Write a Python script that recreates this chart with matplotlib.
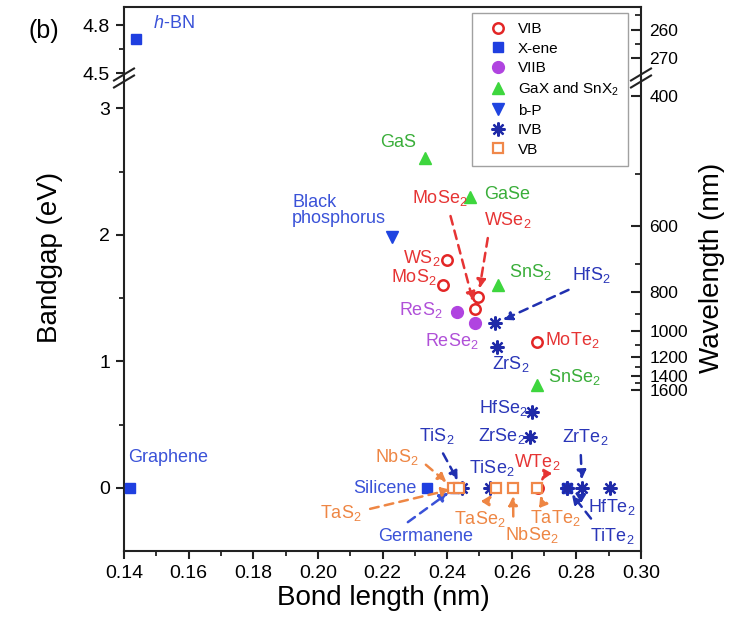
import matplotlib
matplotlib.use('Agg')
import matplotlib.pyplot as plt
from matplotlib.lines import Line2D
import numpy as np

plt.rcParams['font.family'] = ['Liberation Sans', 'DejaVu Sans']
plt.rcParams['mathtext.fontset'] = 'custom'
plt.rcParams['mathtext.rm'] = 'Liberation Sans'
plt.rcParams['mathtext.it'] = 'Liberation Sans:italic'
plt.rcParams['mathtext.bf'] = 'Liberation Sans:bold'

# ---------------- data ----------------
vib_names = ['MoS2', 'WS2', 'MoSe2', 'WSe2', 'MoTe2', 'WTe2']
vib_x = [0.2388, 0.2400, 0.2487, 0.2496, 0.2679, 0.2680]
vib_y = [1.605, 1.80, 1.41, 1.51, 1.155, 0.0]

xene_names = ['Graphene', 'h-BN', 'Silicene', 'Germanene', 'Stanene']
xene_x = [0.1420, 0.1437, 0.2338, 0.2425, 0.2770]
xene_y = [0.0, 4.71, 0.0, 0.0, 0.0]

viib_names = ['ReS2', 'ReSe2']
viib_x = [0.2431, 0.2487]
viib_y = [1.39, 1.30]

gax_names = ['GaS', 'GaSe', 'SnS2', 'SnSe2']
gax_x = [0.2332, 0.2471, 0.2558, 0.2679]
gax_y = [2.61, 2.30, 1.60, 0.81]

bp_names = ['Black phosphorus']
bp_x = [0.2230]
bp_y = [1.985]

ivb_names = ['TiS2', 'TiSe2', 'TiTe2', 'ZrS2', 'ZrSe2', 'ZrTe2', 'HfS2', 'HfSe2', 'HfTe2', 'IVB-other']
ivb_x = [0.2445, 0.2533, 0.2770, 0.2555, 0.2657, 0.2818, 0.2549, 0.2663, 0.2772, 0.2905]
ivb_y = [0.0, 0.0, 0.0, 1.11, 0.40, 0.0, 1.30, 0.60, 0.0, 0.0]

vb_names = ['NbS2', 'TaS2', 'TaSe2', 'NbSe2', 'TaTe2']
vb_x = [0.2418, 0.2436, 0.2552, 0.2604, 0.2679]
vb_y = [0.0, 0.0, 0.0, 0.0, 0.0]

x_ticks = [0.14, 0.16, 0.18, 0.20, 0.22, 0.24, 0.26, 0.28, 0.30]
y_ticks_low = [0, 1, 2, 3]
y_ticks_up = [4.5, 4.8]
wl_ticks_low = [400, 600, 800, 1000, 1200, 1400, 1600]
wl_minor_low = [500, 700, 900, 1100, 1300, 1500]
wl_ticks_up = [260, 270]
wl_minor_up = [255, 265]
HC = 1240.0  # eV*nm

# ---------------- styles ----------------
RED = '#e32626'
BLUE = '#1f3fe0'
PURPLE = '#b044e0'
GREEN = '#3ed63e'
DBLUE = '#1f2aa8'
ORANGE = '#f0884a'

series = [
    # key, legend label, names, x, y, style, label color   (draw order)
    ('VIB', 'VIB', vib_names, vib_x, vib_y,
     dict(marker='o', mfc='none', mec=RED, ms=7.5, mew=1.8), '#e63434'),
    ('X-ene', 'X-ene', xene_names, xene_x, xene_y,
     dict(marker='s', mfc=BLUE, mec=BLUE, ms=6.5, mew=1), '#3a52d8'),
    ('IVB', 'IVB', ivb_names, ivb_x, ivb_y,
     dict(marker=(8, 2, 0), mfc=DBLUE, mec=DBLUE, ms=10, mew=1.6), '#2a36b8'),
    ('VB', 'VB', vb_names, vb_x, vb_y,
     dict(marker='s', mfc='white', mec=ORANGE, ms=7, mew=1.6), '#ee8644'),
    ('VIIB', 'VIIB', viib_names, viib_x, viib_y,
     dict(marker='o', mfc=PURPLE, mec=PURPLE, ms=8.5, mew=1), '#b050d8'),
    ('GaX', 'GaX and SnX$_2$', gax_names, gax_x, gax_y,
     dict(marker='^', mfc=GREEN, mec=GREEN, ms=9, mew=1), '#3aae3a'),
    ('b-P', 'b-P', bp_names, bp_x, bp_y,
     dict(marker='v', mfc='#1f44e0', mec='#1f44e0', ms=9, mew=1), '#3a52d8'),
]
legend_order = ['VIB', 'X-ene', 'VIIB', 'GaX', 'b-P', 'IVB', 'VB']
arrow_colors = {'VIB': '#e63434', 'X-ene': '#3a52d8', 'IVB': '#2030b0', 'VB': '#ee8644'}

points = {}
for key, lab, names, xs, ys, st, lc in series:
    for n, xv, yv in zip(names, xs, ys):
        points[n] = (xv, yv, key, lc)

# label layout: name, text, x, y, ha, relpos (None = no arrow)
label_layout = [
    ('h-BN', '$h$-BN', 0.149, 4.81, 'left', None),
    ('Graphene', 'Graphene', 0.1412, 0.237, 'left', None),
    ('Silicene', 'Silicene', 0.2307, -0.008, 'right', None),
    ('Germanene', 'Germanene', 0.2335, -0.387, 'center', (0.22, 1.0)),
    ('TaS2', 'TaS$_2$', 0.2072, -0.198, 'center', (1.0, 0.6)),
    ('NbS2', 'NbS$_2$', 0.2245, 0.245, 'center', (1.0, 0.4)),
    ('TiS2', 'TiS$_2$', 0.2369, 0.411, 'center', (0.55, 0.0)),
    ('TiSe2', 'TiSe$_2$', 0.2539, 0.158, 'center', None),
    ('TaSe2', 'TaSe$_2$', 0.2502, -0.245, 'center', (0.55, 1.0)),
    ('NbSe2', 'NbSe$_2$', 0.2663, -0.372, 'center', (0.15, 1.0)),
    ('TaTe2', 'TaTe$_2$', 0.2734, -0.237, 'center', (0.3, 1.0)),
    ('WTe2', 'WTe$_2$', 0.2679, 0.206, 'center', (0.7, 0.0)),
    ('ZrTe2', 'ZrTe$_2$', 0.2827, 0.403, 'center', (0.4, 0.0)),
    ('HfTe2', 'HfTe$_2$', 0.2911, -0.150, 'center', (0.0, 0.8)),
    ('TiTe2', 'TiTe$_2$', 0.2911, -0.379, 'center', (0.15, 1.0)),
    ('HfSe2', 'HfSe$_2$', 0.2573, 0.632, 'center', None),
    ('ZrSe2', 'ZrSe$_2$', 0.2570, 0.411, 'center', None),
    ('ZrS2', 'ZrS$_2$', 0.2598, 0.980, 'center', None),
    ('ReSe2', 'ReSe$_2$', 0.2415, 1.162, 'center', None),
    ('ReS2', 'ReS$_2$', 0.2320, 1.407, 'center', None),
    ('MoTe2', 'MoTe$_2$', 0.2787, 1.170, 'center', None),
    ('SnSe2', 'SnSe$_2$', 0.2793, 0.877, 'center', None),
    ('SnS2', 'SnS$_2$', 0.2657, 1.708, 'center', None),
    ('HfS2', 'HfS$_2$', 0.2846, 1.684, 'center', (0.2, 0.0)),
    ('WSe2', 'WSe$_2$', 0.2589, 2.119, 'center', (0.1, 0.0)),
    ('GaSe', 'GaSe', 0.2586, 2.316, 'center', None),
    ('MoSe2', 'MoSe$_2$', 0.2378, 2.292, 'center', (0.65, 0.0)),
    ('GaS', 'GaS', 0.2248, 2.727, 'center', None),
    ('Black phosphorus', 'Black\nphosphorus', 0.1920, 2.19, 'left', None),
    ('WS2', 'WS$_2$', 0.2323, 1.818, 'center', None),
    ('MoS2', 'MoS$_2$', 0.2298, 1.668, 'center', None),
]

# ---------------- figure ----------------
W, H = 751, 617
fig = plt.figure(figsize=(W / 100, H / 100), dpi=100)
L, R = 124 / W, 641 / W
yb, ybrk, yt = 1 - 551 / H, 1 - 78 / H, 1 - 7 / H
ax = fig.add_axes([L, yb, R - L, ybrk - yb])
axu = fig.add_axes([L, ybrk, R - L, yt - ybrk])

SP = '#222222'
for a in (ax, axu):
    a.set_xlim(0.14, 0.30)
    for s in a.spines.values():
        s.set_linewidth(1.5)
        s.set_color(SP)
ax.set_ylim(-0.5, 3.24)
axu.set_ylim(4.469, 4.9125)
ax.spines['top'].set_visible(False)
axu.spines['bottom'].set_visible(False)

for key, lab, names, xs, ys, st, lc in series:
    for a in (ax, axu):
        a.plot(xs, ys, linestyle='none', clip_on=True, zorder=3, **st)

# ticks
ax.set_xticks(x_ticks)
ax.set_xticklabels([f'{t:.2f}' for t in x_ticks])
ax.set_xticks([t + 0.01 for t in x_ticks[:-1]], minor=True)
ax.set_yticks(y_ticks_low)
ax.set_yticklabels([str(t) for t in y_ticks_low])
ax.set_yticks([t + 0.5 for t in y_ticks_low[:-1]], minor=True)
ax.tick_params(which='major', direction='out', length=6, width=1.5, labelsize=14,
               color=SP, right=False, top=False, pad=4)
ax.tick_params(which='minor', direction='out', length=3.5, width=1.3, color=SP,
               right=False, top=False)
axu.set_xticks([])
axu.set_yticks(y_ticks_up)
axu.set_yticklabels([f'{t:.1f}' for t in y_ticks_up])
axu.set_yticks([sum(y_ticks_up) / 2], minor=True)
axu.tick_params(which='major', direction='out', length=6, width=1.5, labelsize=14,
                color=SP, right=False, pad=4)
axu.tick_params(which='minor', direction='out', length=3.5, width=1.3, color=SP, right=False)

axr = ax.twinx()
axr.set_ylim(ax.get_ylim())
axr.set_yticks([HC / w for w in wl_ticks_low])
axr.set_yticklabels([str(w) for w in wl_ticks_low])
axr.set_yticks([HC / w for w in wl_minor_low], minor=True)
axur = axu.twinx()
axur.set_ylim(axu.get_ylim())
axur.set_yticks([HC / w for w in wl_ticks_up])
axur.set_yticklabels([str(w) for w in wl_ticks_up])
axur.set_yticks([HC / w for w in wl_minor_up], minor=True)
for a in (axr, axur):
    a.tick_params(which='major', direction='in', length=7, width=1.5, labelsize=12.5,
                  color=SP, pad=6)
    a.tick_params(which='minor', direction='in', length=4, width=1.3, color=SP)
    for s in a.spines.values():
        s.set_visible(False)
axur.set_xticks([])

# labels & arrows
for name, text, tx, ty, ha, relpos in label_layout:
    px, py, key, lc = points[name]
    a = axu if ty > 4 else ax
    if relpos is None:
        a.text(tx, ty, text, color=lc, fontsize=13, ha=ha, va='center',
               linespacing=0.95, zorder=5)
    else:
        acol = arrow_colors.get(key, lc)
        a.annotate(text, xy=(px, py), xytext=(tx, ty), color=lc, fontsize=13,
                   ha=ha, va='center', zorder=5,
                   arrowprops=dict(arrowstyle='-|>', linestyle=(0, (3.5, 2.5)),
                                   color=acol, lw=1.8, mutation_scale=13,
                                   shrinkA=4, shrinkB=6, relpos=relpos))

# axis labels and panel tag
fig.text(383 / W, 1 - 598 / H, 'Bond length (nm)', fontsize=20, ha='center', va='center')
fig.text(50 / W, 1 - 257 / H, 'Bandgap (eV)', fontsize=20, ha='center', va='center',
         rotation=90)
fig.text(712 / W, 1 - 268 / H, 'Wavelength (nm)', fontsize=20, ha='center', va='center',
         rotation=90)
fig.text(44 / W, 1 - 31 / H, '(b)', fontsize=18, ha='center', va='center')

# axis break marks
for xb in (124, 641):
    for dy in (-3.5, 3.5):
        fig.add_artist(Line2D([(xb - 10) / W, (xb + 10) / W],
                              [1 - (78 + dy + 6) / H, 1 - (78 + dy - 6) / H],
                              color=SP, lw=1.5, transform=fig.transFigure))

# legend
smap = {s[0]: s for s in series}
handles, labs = [], []
for k in legend_order:
    key, lab, names, xs, ys, st, lc = smap[k]
    hst = dict(st)
    if hst.get('mfc') == 'white':
        hst['mfc'] = 'none'
    handles.append(Line2D([], [], linestyle='none', **hst))
    labs.append(lab)
leg = fig.legend(handles, labs, loc='upper right', bbox_to_anchor=(628 / W, 1 - 13 / H),
                 bbox_transform=fig.transFigure, frameon=True, fancybox=False,
                 edgecolor='#8a8a8a', fontsize=11, labelspacing=0.36, handletextpad=0.2,
                 borderpad=0.6, handlelength=2.2, borderaxespad=0, numpoints=1)
leg.get_frame().set_linewidth(1.0)

fig.savefig('out.png', dpi=100)
